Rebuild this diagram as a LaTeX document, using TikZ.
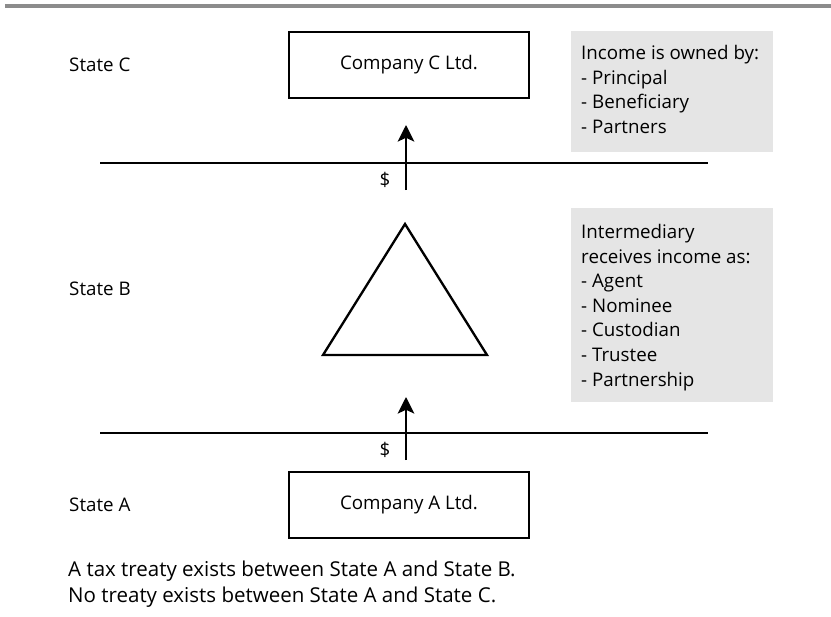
\documentclass[tikz,border=0pt]{standalone}
\usepackage{fontspec}
\setmainfont{Open Sans}
\usetikzlibrary{arrows.meta}

\begin{document}
\begin{tikzpicture}[x=0.03cm, y=-0.03cm,
		every node/.style={font=\fontsize{16}{21}\selectfont},
		company/.style={draw, line width=0.8mm, minimum width=7.2cm, minimum height=1.98cm},
		state/.style={anchor=west, inner sep=0pt},
		border/.style={line width=0.5mm},
		flow/.style={line width=0.6mm, -{Stealth[length=5mm, width=5mm, inset=1.2mm]}},
		note/.style={fill=black!10},
		notetext/.style={anchor=north west, align=left, inner sep=0pt}]
			%%%%% START %%%%%
			\useasboundingbox (0, 0) rectangle (831, 617);
			
			\draw[line width=0.9mm, color=black!45] (5, 6) -- (831, 6);
			
			\node[state] (stateC) at (69, 65) {State C};
			\node[company] (compC) at (409, 65) {Company C Ltd.};
			
			\fill[note] (571, 31) rectangle (773, 152);
			\node[notetext] (ownedby) at (581, 45) {Income is owned by:\\- Principal\\- Beneficiary\\- Partners};
			
			\draw[border] (100, 163) -- (708, 163);
			\coordinate (flowBbot) at (406, 190);
			\coordinate (flowBtop) at (406, 125);
			\draw[flow] (flowBbot) -- (flowBtop);
			\node[inner sep=0pt] (dollarB) at (385, 180) {\$};
			
			\node[state] (stateB) at (69, 289) {State B};
			\draw[line width=0.7mm, line join=miter] (405, 224) -- (487, 355) -- (323, 355) -- cycle;
			
			\fill[note] (571, 208) rectangle (773, 402);
			\node[notetext] (receives) at (581, 224) {Intermediary\\receives income as:\\- Agent\\- Nominee\\- Custodian\\- Trustee\\- Partnership};
			
			\draw[border] (100, 433) -- (708, 433);
			\coordinate (flowAbot) at (406, 460);
			\coordinate (flowAtop) at (406, 397);
			\draw[flow] (flowAbot) -- (flowAtop);
			\node[inner sep=0pt] (dollarA) at (385, 450) {\$};
			
			\node[state] (stateA) at (69, 505) {State A};
			\node[company] (compA) at (409, 505) {Company A Ltd.};
			
			\node[notetext, font=\fontsize{17.5}{21.5}\selectfont] (treaty) at (68, 561) {A tax treaty exists between State A and State B.\\No treaty exists between State A and State C.};
			
			%%%%% END %%%%%
		\end{tikzpicture}
\end{document}
